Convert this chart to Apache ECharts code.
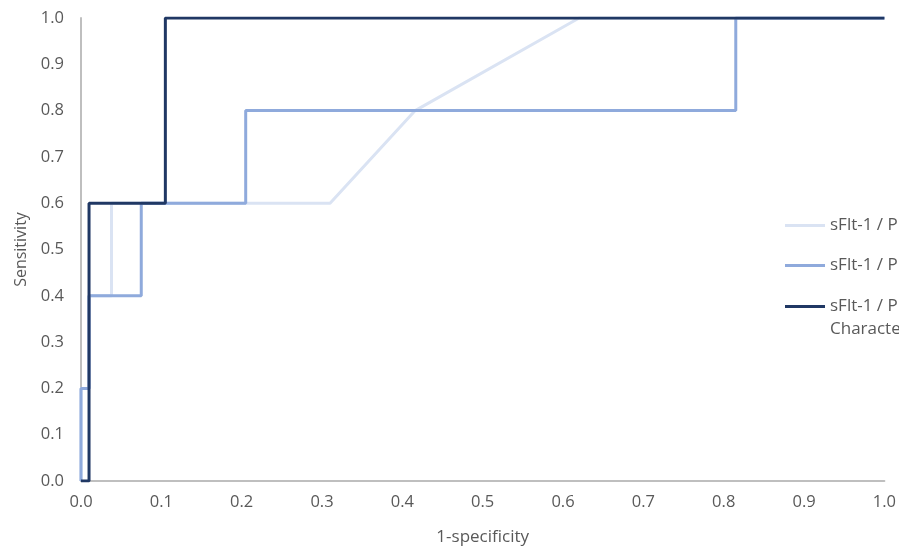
<!DOCTYPE html>
<html>
<head>
<meta charset="utf-8">
<script src="https://cdn.jsdelivr.net/npm/echarts@6/dist/echarts.min.js"></script>
<style>html,body{margin:0;padding:0;background:#fff}#c{width:899px;height:551px}</style>
</head>
<body>
<div id="c"></div>
<script>
var seriesNames = ["sFlt-1 / PlGF", "sFlt-1 / PlGF ratio", "sFlt-1 / PlGF Receiver Operating\nCharacteristic"];
var lightX = [0, 0, 0.01, 0.01, 0.038, 0.038, 0.31, 0.416, 0.62, 1.0];
var lightY = [0, 0.2, 0.2, 0.4, 0.4, 0.6, 0.6, 0.8, 1.0, 1.0];
var mediumX = [0, 0, 0.01, 0.01, 0.075, 0.075, 0.205, 0.205, 0.815, 0.815, 1.0];
var mediumY = [0, 0.2, 0.2, 0.4, 0.4, 0.6, 0.6, 0.8, 0.8, 1.0, 1.0];
var darkX = [0, 0.01, 0.01, 0.105, 0.105, 1.0];
var darkY = [0, 0, 0.6, 0.6, 1.0, 1.0];

function pairs(xs, ys){ return xs.map(function(x,i){ return [x, ys[i]]; }); }

var FONT = "'Open Sans', 'Noto Sans', sans-serif";
var legendCommon = {
  orient: 'vertical', left: 780, itemGap: 17,
  itemWidth: 40, itemHeight: 14,
  icon: 'path://M0,5.5 L40,5.5 L40,8.5 L0,8.5 Z',
  textStyle: { color: '#595959', fontSize: 17, fontFamily: FONT, lineHeight: 23 }
};
var chart = echarts.init(document.getElementById('c'));
chart.setOption({
  animation: false,
  backgroundColor: '#ffffff',
  textStyle: { fontFamily: FONT },
  grid: { left: 81, right: 13, top: 18, bottom: 68, containLabel: false },
  xAxis: {
    type: 'value', min: 0, max: 1, interval: 0.1,
    name: '1-specificity', nameLocation: 'middle', nameGap: 48,
    nameTextStyle: { color: '#595959', fontSize: 17, fontFamily: FONT },
    axisLine: { show: true, lineStyle: { color: '#bfbfbf', width: 2 } },
    axisTick: { show: false },
    splitLine: { show: false },
    axisLabel: { color: '#595959', fontSize: 16.5, fontFamily: FONT, margin: 13,
      formatter: function(v){ return v.toFixed(1); } }
  },
  yAxis: {
    type: 'value', min: 0, max: 1, interval: 0.1,
    name: 'Sensitivity', nameLocation: 'middle', nameGap: 51,
    nameTextStyle: { color: '#595959', fontSize: 16, fontFamily: FONT },
    axisLine: { show: true, lineStyle: { color: '#bfbfbf', width: 2 } },
    axisTick: { show: false },
    splitLine: { show: false },
    axisLabel: { color: '#595959', fontSize: 16.5, fontFamily: FONT, margin: 17,
      formatter: function(v){ return v.toFixed(1); } }
  },
  legend: [
    Object.assign({}, legendCommon, { top: 209, data: [seriesNames[0], seriesNames[1]] }),
    Object.assign({}, legendCommon, { top: 267, data: [seriesNames[2]],
      formatter: function(name){ return '\n' + name; } })
  ],
  series: [
    { name: seriesNames[0], type: 'line', data: pairs(lightX, lightY), symbol: 'none',
      lineStyle: { color: '#dae3f3', width: 3 }, itemStyle: { color: '#dae3f3' } },
    { name: seriesNames[1], type: 'line', data: pairs(mediumX, mediumY), symbol: 'none',
      lineStyle: { color: '#8faadc', width: 3 }, itemStyle: { color: '#8faadc' } },
    { name: seriesNames[2], type: 'line', data: pairs(darkX, darkY), symbol: 'none',
      lineStyle: { color: '#203864', width: 3 }, itemStyle: { color: '#203864' } }
  ]
});
</script>
</body>
</html>
